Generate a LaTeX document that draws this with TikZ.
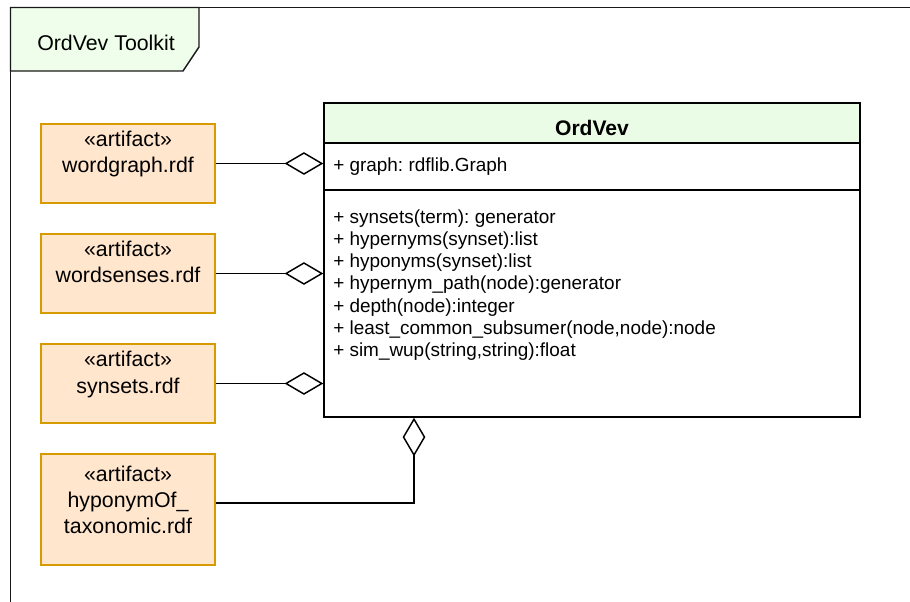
\documentclass[tikz,border=0pt]{standalone}
\usepackage{fontspec}
\setmainfont{Liberation Sans}
\usetikzlibrary{arrows.meta}
\frenchspacing
\definecolor{pkgfill}{HTML}{EFFEEA}
\definecolor{headfill}{HTML}{EAFCE5}
\definecolor{artfill}{HTML}{FFE6CC}
\definecolor{artline}{HTML}{D79B00}
\tikzset{
  frameline/.style={draw=black!90, line width=1.4pt},
  pkgtab/.style={draw=black!90, fill=pkgfill, line width=1.1pt, line join=miter},
  bigtext/.style={inner sep=0pt, anchor=base, font=\fontsize{16}{19}\selectfont},
  headtext/.style={inner sep=0pt, anchor=base, font=\fontsize{15.8}{19}\selectfont\bfseries},
  member/.style={inner sep=0pt, anchor=base west, font=\fontsize{14.2}{17}\selectfont},
  artifact/.style={draw=artline, fill=artfill, line width=1.1pt, inner sep=0pt,
    minimum width=130.5pt, minimum height=59.25pt},
  classbox/.style={draw=black, line width=1.1pt, inner sep=0pt,
    minimum width=402pt, minimum height=235.5pt},
  classhead/.style={draw=black, fill=headfill, line width=1.1pt, inner sep=0pt,
    minimum width=402pt, minimum height=30pt, anchor=north},
  agg/.style={draw=black, line width=1.1pt,
    -{Diamond[open, length=29pt, width=17pt, line width=1.1pt]}},
}
\begin{document}
\begin{tikzpicture}[x=0.75pt, y=-0.75pt]
  \useasboundingbox (0,0) rectangle (910,601);
  \clip (0,0) rectangle (910,601);

  % package frame and its name tab
  \draw[frameline] (10.5,640) -- (10.5,7.5) -- (950,7.5);
  \path[pkgtab] (10.5,7.5) -- (199,7.5) -- (199,47) -- (183,71) -- (10.5,71) -- cycle;
  \node[bigtext, anchor=base west] (pkgname) at (37,50) {OrdVev Toolkit};

  % class OrdVev
  \node[classbox] (cls) at (592,260) {};
  \node[classhead] (clshead) at (cls.north) {};
  \node[headtext] (clsname) at (592,135) {OrdVev};
  \draw[line width=1.1pt] (cls.west |- 0,190) coordinate (divl) -- (cls.east |- 0,190) coordinate (divr);
  \node[member] (attr) at (333,171.5) {+ graph: rdflib.Graph};
  \foreach \txt [count=\i] in {
      {+ synsets(term): generator},
      {+ hypernyms(synset):list},
      {+ hyponyms(synset):list},
      {+ hypernym\_path(node):generator},
      {+ depth(node):integer},
      {+ least\_common\_subsumer(node,node):node},
      {+ sim\_wup(string,string):float}}
    \node[member] (op\i) at (333,{223+22.3*(\i-1)}) {\txt};

  % artifacts
  \node[artifact] (wg) at (128,163.5) {};
  \node[bigtext] (wgst) at (128,146) {«artifact»};
  \node[bigtext] (wgnm) at (128,172.5) {wordgraph.rdf};

  \node[artifact] (ws) at (128,273.5) {};
  \node[bigtext] (wsst) at (128,256) {«artifact»};
  \node[bigtext] (wsnm) at (128,282.5) {wordsenses.rdf};

  \node[artifact] (sy) at (128,383.5) {};
  \node[bigtext] (syst) at (128,366.5) {«artifact»};
  \node[bigtext] (synm) at (128,393) {synsets.rdf};

  \node[artifact, minimum height=83.25pt] (hy) at (128,509.5) {};
  \node[bigtext] (hyst) at (128,481) {«artifact»};
  \node[bigtext] (hynm) at (128,507) {hyponymOf\_};
  \node[bigtext] (hynm2) at (128,533) {taxonomic.rdf};

  % aggregation connectors
  \draw[agg] (wg.east) -- (wg.east -| cls.west);
  \draw[agg] (ws.east) -- (ws.east -| cls.west);
  \draw[agg] (sy.east) -- (sy.east -| cls.west);
  \coordinate (bend) at (414,503);
  \draw[agg] (hy.east |- bend) -- (bend) -- (bend |- cls.south);
\end{tikzpicture}
\end{document}
